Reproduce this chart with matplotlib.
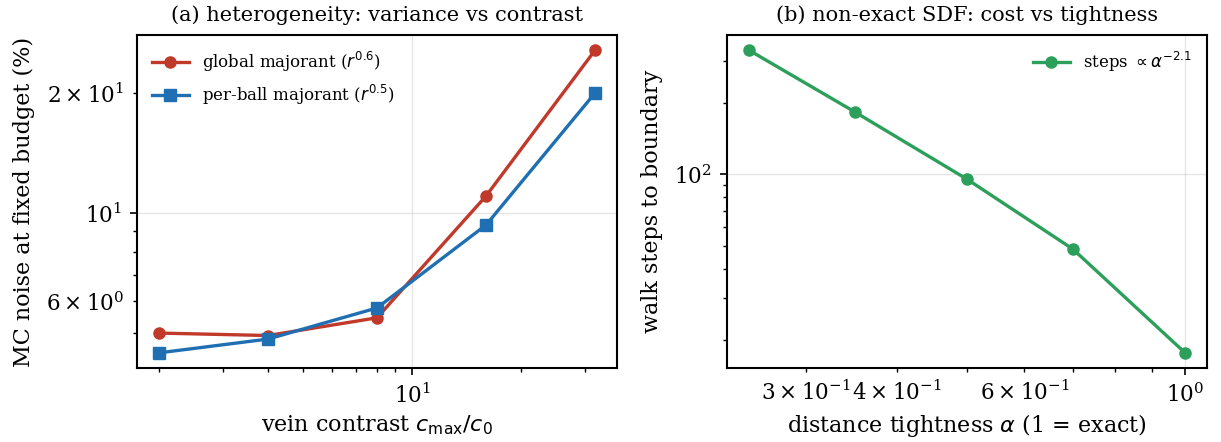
import matplotlib
matplotlib.use("Agg")
import matplotlib.pyplot as plt

# panel (a): noise vs vein contrast
contrast = [2, 4, 8, 16, 32]
noise_global = [5.00, 4.93, 5.46, 11.03, 25.6]
noise_perball = [4.46, 4.83, 5.78, 9.33, 20.0]

# panel (b): walk cost vs distance tightness
alpha = [0.25, 0.35, 0.5, 0.7, 1.0]
steps = [333, 183, 95.3, 48.4, 17.7]

plt.rcParams['font.family'] = 'DejaVu Serif'
plt.rcParams['mathtext.fontset'] = 'dejavusans'
plt.rcParams['axes.linewidth'] = 1.5

RED = '#c0392b'
BLUE = '#1f6fb2'
GREEN = '#2ca05a'

fig, (ax1, ax2) = plt.subplots(1, 2, figsize=(12.21, 4.42), dpi=100)
fig.subplots_adjust(left=0.1122, right=0.9885, bottom=0.1674, top=0.9208, wspace=0.2295)

ax1.plot(contrast, noise_global, '-o', color=RED, lw=2.4, ms=8,
         label=r'global majorant ($r^{0.6}$)')
ax1.plot(contrast, noise_perball, '-s', color=BLUE, lw=2.4, ms=8,
         label=r'per-ball majorant ($r^{0.5}$)')
ax1.set_xscale('log')
ax1.set_yscale('log')
ax1.set_xlabel(r'vein contrast $c_{\max}/c_0$', fontsize=16, labelpad=4)
ax1.set_ylabel('MC noise at fixed budget (%)', fontsize=16, labelpad=8)
ax1.set_title('(a) heterogeneity: variance vs contrast', fontsize=15, pad=10)
ax1.legend(loc='upper left', frameon=False, fontsize=12, handlelength=2.2)

ax2.plot(alpha, steps, '-o', color=GREEN, lw=2.4, ms=8,
         label=r'steps $\propto\alpha^{-2.1}$')
ax2.set_xscale('log')
ax2.set_yscale('log')
ax2.set_xlabel(r'distance tightness $\alpha$ (1 = exact)', fontsize=16, labelpad=4)
ax2.set_ylabel('walk steps to boundary', fontsize=16, labelpad=8)
ax2.set_title('(b) non-exact SDF: cost vs tightness', fontsize=15, pad=10)
ax2.legend(loc='upper right', frameon=False, fontsize=12, handlelength=2.2)

for ax in (ax1, ax2):
    ax.grid(True, which='major', color='#cccccc', alpha=0.5, lw=1.0)
    ax.tick_params(which='both', labelsize=15.5, pad=6)
    ax.tick_params(which='major', length=5, width=1.2)
    ax.tick_params(which='minor', length=3, width=1.0)

fig.savefig('out.png', dpi=100)
